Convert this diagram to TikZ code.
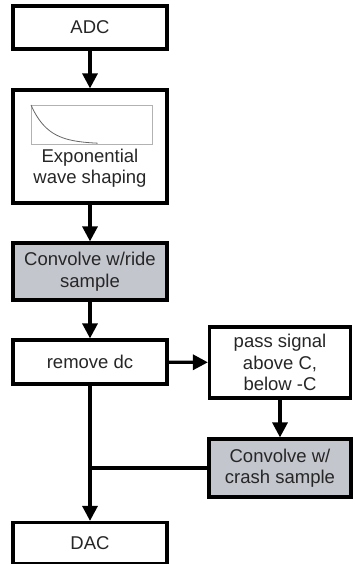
\documentclass[tikz,border=0pt]{standalone}
\usepackage{fontspec}
\setmainfont{Liberation Sans}
\usetikzlibrary{arrows.meta,positioning,calc}
\definecolor{shade}{RGB}{196,198,206}

\begin{document}
\begin{tikzpicture}[x=1pt,y=-1pt,
  blk/.style={draw, line width=3.2pt, minimum width=154pt, align=center, inner sep=0pt, text=black!85, font=\fontsize{18.5}{21.5}\selectfont},
  grayblk/.style={blk, fill=shade},
  flow/.style={line width=3.2pt, -{Triangle[length=15pt,width=15pt]}}]
\useasboundingbox (0,0) rectangle (354,564);
\node[blk, minimum height=43pt] (adc) at (90,27.5) {ADC};
\node[blk, minimum height=113pt] (expo) at (90,146.5) {};
\node[align=center, inner sep=0pt, text=black!85, font=\fontsize{18.5}{21.5}\selectfont] (expotxt) at (90,168) {Exponential\\wave shaping};
\draw[gray!60, line width=0.6pt] (31,105) rectangle (152,144);
\draw[gray!80!black, line width=0.8pt, domain=0:0.55, samples=40] plot ({31+121*\x},{105+39*(1-exp(-7*\x))});
\node[grayblk, minimum height=57pt] (ride) at (90,271.5) {Convolve w/ride\\sample};
\node[blk, minimum height=44pt] (rmdc) at (90,362) {remove dc};
\node[blk, minimum width=141pt, minimum height=71pt] (pass) at (280,362.5) {pass signal\\above C,\\below -C};
\node[grayblk, minimum width=142pt, minimum height=58pt] (crash) at (280,468) {Convolve w/\\crash sample};
\node[blk, minimum height=41pt] (dac) at (90,543) {DAC};
\draw[flow] (adc) -- (expo);
\draw[flow] (expo) -- (ride);
\draw[flow] (ride) -- (rmdc);
\draw[flow] (rmdc) -- (pass);
\draw[flow] (pass) -- (crash);
\draw[flow] (rmdc) -- (dac);
\draw[line width=3.2pt] (crash.west) -- (crash.west -| rmdc.south);
\end{tikzpicture}
\end{document}
